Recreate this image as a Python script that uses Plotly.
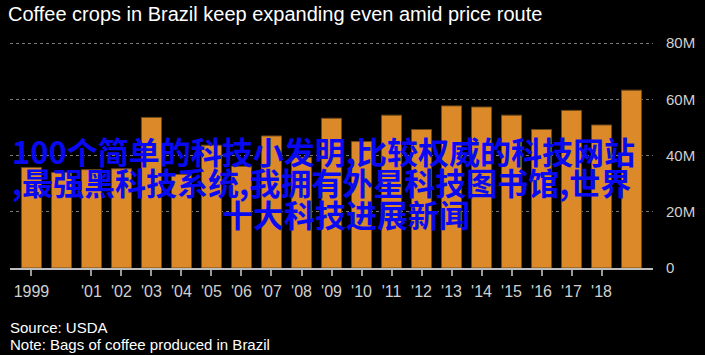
import plotly.graph_objects as go

# ---- data ----
years = list(range(1999, 2020))
bags_m = [35.8, 34.0, 35.0, 35.3, 53.6, 33.3, 43.7, 36.2, 47.0, 39.4,
          53.3, 45.0, 54.4, 49.3, 57.7, 57.3, 54.4, 49.3, 56.1, 50.9, 63.3]
x_tickvals = [1999] + list(range(2001, 2019))
x_ticktext = ["1999"] + ["'%02d" % (y % 100) for y in range(2001, 2019)]
y_tickvals = [0, 20, 40, 60, 80]
y_ticktext = ["0", "20M", "40M", "60M", "80M"]

title = "Coffee crops in Brazil keep expanding even amid price route"
overlay_lines = ["100个简单的科技小发明,比较权威的科技网站",
                 ",最强黑科技系统,我拥有外星科技图书馆,世界",
                 "十大科技进展新闻"]
source = "Source: USDA"
note = "Note: Bags of coffee produced in Brazil"

W, H = 705, 355
L, R, T, B = 10, 45, 32, 87
plot_h = H - T - B

fig = go.Figure()
fig.add_trace(go.Bar(
    x=years, y=bags_m, width=0.67,
    marker=dict(color="#dc8a29", line=dict(color="#6e4a1c", width=1)),
    hoverinfo="skip",
))

FONT = "Liberation Sans, Arial, sans-serif"
CJK = "Noto Sans CJK SC"

fig.update_layout(
    width=W, height=H,
    margin=dict(l=L, r=R, t=T, b=B, pad=0),
    paper_bgcolor="#000000", plot_bgcolor="#000000",
    showlegend=False,
    font=dict(family=FONT, color="#d0d0d0"),
    title=dict(text=title, x=8 / W, xanchor="left", xref="container",
               y=1 - 14 / H, yanchor="middle", yref="container",
               font=dict(family=FONT, size=20, color="#ffffff")),
    xaxis=dict(range=[1998.285, 2019.715], tickmode="array",
               tickvals=x_tickvals, ticktext=x_ticktext,
               showgrid=False, zeroline=False,
               showline=True, linecolor="#bdbdbd", linewidth=1.5,
               ticks="outside", ticklen=6, tickwidth=1.5, tickcolor="#9a9a9a",
               ticklabelstandoff=2,
               tickfont=dict(family=FONT, size=16, color="#d0d0d0"),
               fixedrange=True),
    yaxis=dict(range=[0, 84], side="right", tickmode="array",
               tickvals=y_tickvals, ticktext=y_ticktext,
               showgrid=True, gridcolor="#7a7a7a", griddash="dot", gridwidth=1,
               zeroline=False, showline=False, ticks="",
               ticklabelstandoff=12,
               tickfont=dict(family=FONT, size=15, color="#d0d0d0"),
               fixedrange=True),
)

def py(px):
    return (H - B - px) / plot_h

def pxx(px):
    return (px - L) / (W - L - R)

fig.add_annotation(text=source, xref="paper", yref="paper", x=pxx(8), y=py(327),
                   xanchor="left", yanchor="middle", showarrow=False,
                   font=dict(family=FONT, size=15, color="#ffffff"))
fig.add_annotation(text=note, xref="paper", yref="paper", x=pxx(8), y=py(344),
                   xanchor="left", yanchor="middle", showarrow=False,
                   font=dict(family=FONT, size=15, color="#ffffff"))

cjk_font = dict(family=CJK, size=31, color="#0a0af2", weight="bold")
fig.add_annotation(text=overlay_lines[0], xref="paper", yref="paper",
                   x=pxx(10), y=py(150), xanchor="left", yanchor="middle",
                   showarrow=False, font=cjk_font)
fig.add_annotation(text=overlay_lines[1], xref="paper", yref="paper",
                   x=pxx(10), y=py(181), xanchor="left", yanchor="middle",
                   showarrow=False, font=cjk_font)
fig.add_annotation(text=overlay_lines[2], xref="paper", yref="paper",
                   x=pxx(350), y=py(213), xanchor="center", yanchor="middle",
                   showarrow=False, font=cjk_font)

fig.write_html(
    "out.html",
    config={"displayModeBar": False},
    post_script="document.body.style.margin='0';document.body.style.background='#000';"
                "document.body.style.overflow='hidden';",
)
